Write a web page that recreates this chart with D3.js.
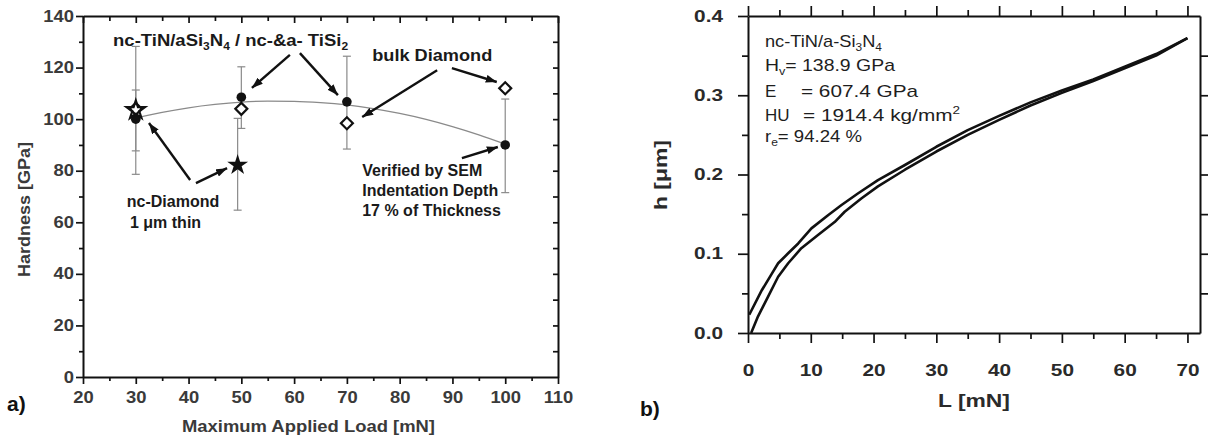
<!DOCTYPE html>
<html><head><meta charset="utf-8">
<script src="https://cdn.jsdelivr.net/npm/d3@7"></script>
<style>
body{margin:0;background:#fff}
text{font-family:"Liberation Sans",Arial,Helvetica,sans-serif}
</style>
</head><body>
<svg id="c" width="1212" height="439"></svg>
<script>
// ---------------- DATA: panel a ----------------
const xTicksA = [20,30,40,50,60,70,80,90,100,110];
const yTicksA = [0,20,40,60,80,100,120,140];
const circleLoad = [30,50,70,100];
const circleHard = [100,108.5,106.7,90];
const diamondLoad = [30,50,70,100];
const diamondHard = [104,104,98.4,112];
const openStarLoad = [30];
const openStarHard = [103.5];
const filledStarLoad = [49.3];
const filledStarHard = [82.2];
const errLoad = [30,30,50,49.3,70,100];
const errLow  = [78.6,87.7,96.4,64.7,88.4,71.5];
const errHigh = [128.2,111.3,120.3,100.3,124.4,107.8];
const fitLoad = [30,35,40,45,50,55,60,65,70,75,80,85,90,95,100];
const fitHard = [100.4,102.6,104.4,105.7,106.6,107.0,106.9,106.4,105.5,104.1,102.2,99.9,97.1,93.9,90.3];

// ---------------- DATA: panel b ----------------
const xTicksB = [0,10,20,30,40,50,60,70];
const yTicksB = [0.0,0.1,0.2,0.3,0.4];
const loadL = [0.5,1.6,3.2,4.8,6.4,8.5,11.2,13.8,15.4,18.1,20.7,25,30,35,40,45,50,55,60,65,70];
const loadH = [0,0.021,0.046,0.071,0.088,0.107,0.124,0.140,0.153,0.170,0.185,0.206,0.229,0.250,0.269,0.287,0.303,0.318,0.334,0.350,0.372];
const unloadL = [0.2,2.2,3.8,4.8,6.4,8.0,10.1,12.8,14.9,17.5,20.7,25,30,35,40,45,50,55,60,65,70];
const unloadH = [0.023,0.054,0.075,0.088,0.1006,0.113,0.132,0.149,0.1615,0.176,0.193,0.212,0.235,0.256,0.274,0.291,0.306,0.320,0.336,0.352,0.372];

// ---------------- DRAWING ----------------
const svg = d3.select("#c");
const FONT = '"Liberation Sans",Arial,Helvetica,sans-serif';

svg.append("defs").append("marker")
  .attr("id","ah").attr("viewBox","0 0 11 8").attr("refX",11).attr("refY",4)
  .attr("markerUnits","userSpaceOnUse").attr("markerWidth",11).attr("markerHeight",8)
  .attr("orient","auto")
  .append("path").attr("d","M0,0L11,4L0,8Z").attr("fill","#111");

function styleAxis(g, color, size, sx){
  g.attr("font-family",null).attr("font-size",null);
  g.selectAll(".domain").attr("stroke","#111").attr("stroke-width",2);
  g.selectAll(".tick line").attr("stroke","#111").attr("stroke-width",1.7);
  g.selectAll(".tick text").attr("fill",color).attr("font-size",size)
    .attr("font-weight","bold").attr("font-family",FONT)
    .each(function(){
      const t=d3.select(this); const x=+t.attr("x")||0;
      t.attr("x", x/sx).attr("transform",`scale(${sx},1)`);
    });
}
function minor(g){ g.select(".domain").remove(); g.selectAll(".tick line").attr("stroke","#111").attr("stroke-width",1.7); }
function range5(a,b,s){ const r=[]; for(let v=a; v<=b+1e-9; v+=s) r.push(+v.toFixed(4)); return r; }

// ===== Panel a =====
const xA = d3.scaleLinear().domain([20,110]).range([83,558]);
const yA = d3.scaleLinear().domain([0,140]).range([377,16]);
const gA = svg.append("g");
const colA = "#3a3a3a";

gA.append("g").attr("transform","translate(0,377)")
  .call(d3.axisBottom(xA).tickValues(xTicksA).tickSize(7).tickSizeOuter(0).tickPadding(8))
  .call(g=>styleAxis(g,colA,16,1.15));
gA.append("g").attr("transform","translate(0,377)")
  .call(d3.axisBottom(xA).tickValues(range5(25,105,10)).tickSize(4).tickFormat(""))
  .call(minor);
gA.append("g").attr("transform","translate(83,0)")
  .call(d3.axisLeft(yA).tickValues(yTicksA).tickSize(7).tickSizeOuter(0).tickPadding(2))
  .call(g=>styleAxis(g,colA,16,1.15));
gA.append("g").attr("transform","translate(83,0)")
  .call(d3.axisLeft(yA).tickValues(range5(10,130,20)).tickSize(4).tickFormat(""))
  .call(minor);
gA.append("g").attr("transform","translate(0,16)")
  .call(d3.axisTop(xA).tickValues(xTicksA).tickSize(-7).tickSizeOuter(0).tickFormat(""))
  .call(g=>styleAxis(g,colA,16,1));
gA.append("g").attr("transform","translate(0,16)")
  .call(d3.axisTop(xA).tickValues(range5(25,105,10)).tickSize(-5).tickFormat(""))
  .call(minor);
gA.append("g").attr("transform","translate(558,0)")
  .call(d3.axisRight(yA).tickValues(range5(10,130,10)).tickSize(-5).tickSizeOuter(0).tickFormat(""))
  .call(g=>styleAxis(g,colA,16,1));

const errG = gA.append("g").attr("stroke","#8a8a8a").attr("stroke-width",1.2).attr("fill","none");
errLoad.forEach((x,i)=>{
  const px=xA(x);
  errG.append("line").attr("x1",px).attr("x2",px).attr("y1",yA(errLow[i])).attr("y2",yA(errHigh[i]));
  errG.append("line").attr("x1",px-4).attr("x2",px+4).attr("y1",yA(errLow[i])).attr("y2",yA(errLow[i]));
  errG.append("line").attr("x1",px-4).attr("x2",px+4).attr("y1",yA(errHigh[i])).attr("y2",yA(errHigh[i]));
});
gA.append("path").datum(fitLoad.map((x,i)=>[x,fitHard[i]]))
  .attr("d", d3.line().x(d=>xA(d[0])).y(d=>yA(d[1])).curve(d3.curveMonotoneX))
  .attr("fill","none").attr("stroke","#8a8a8a").attr("stroke-width",1.3);

circleLoad.forEach((x,i)=>{
  gA.append("circle").attr("cx",xA(x)).attr("cy",yA(circleHard[i])).attr("r",4.8).attr("fill","#111");
});
const sq = d3.symbol().type(d3.symbolSquare).size(72);
diamondLoad.forEach((x,i)=>{
  gA.append("path").attr("d",sq()).attr("transform",`translate(${xA(x)},${yA(diamondHard[i])}) rotate(45)`)
    .attr("fill","#fff").attr("stroke","#111").attr("stroke-width",2.2);
});
openStarLoad.forEach((x,i)=>{
  gA.append("path").attr("d",d3.symbol().type(d3.symbolStar).size(105)())
    .attr("transform",`translate(${xA(x)},${yA(openStarHard[i])})`)
    .attr("fill","none").attr("stroke","#111").attr("stroke-width",2.2);
});
filledStarLoad.forEach((x,i)=>{
  gA.append("path").attr("d",d3.symbol().type(d3.symbolStar).size(135)())
    .attr("transform",`translate(${xA(x)},${yA(filledStarHard[i])})`)
    .attr("fill","#111");
});

const arrowsA = [
  [59.2,124.9,52.0,112.1],[61.1,125.6,68.3,109.3],
  [87.1,119.0,72.9,100.8],[89.9,119.8,98.4,114.4],
  [91.8,84.9,98.6,89.2],
  [40.3,76.4,32.5,98.5],[41.4,75.2,47.3,81.0]
];
arrowsA.forEach(a=>{
  gA.append("line").attr("x1",xA(a[0])).attr("y1",yA(a[1])).attr("x2",xA(a[2])).attr("y2",yA(a[3]))
    .attr("stroke","#111").attr("stroke-width",2.4).attr("marker-end","url(#ah)");
});

function ann(g, x, y, parts, opts={}){
  const t = g.append("text").attr("x",x).attr("y",y)
    .attr("font-size",opts.size||16).attr("font-weight",opts.weight||"bold")
    .attr("fill",opts.fill||"#1a1a1a");
  if(opts.len) t.attr("textLength",opts.len).attr("lengthAdjust","spacingAndGlyphs");
  let shift=0;
  parts.forEach(p=>{
    const s = typeof p==="string" ? {t:p,d:0} : p;
    const ts = t.append("tspan").text(s.t);
    const target = s.d||0;
    if(target!==shift){ ts.attr("dy", target-shift); shift=target; }
    if(s.d) ts.attr("font-size", (opts.size||16)*0.65);
  });
  return t;
}
ann(gA, xA(25.7), yA(128.3), ["nc-TiN/aSi",{t:"3",d:4},"N",{t:"4",d:4}," / nc-&a- TiSi",{t:"2",d:4}], {len:235});
ann(gA, xA(74.8), yA(122.5), ["bulk Diamond"], {len:120});
ann(gA, xA(72.9), yA(77.9), ["Verified by SEM"]);
ann(gA, xA(72.9), yA(70.2), ["Indentation Depth"]);
ann(gA, xA(72.9), yA(62.4), ["17 % of Thickness"]);
ann(gA, xA(28.3), yA(65.9), ["nc-Diamond"]);
ann(gA, xA(28.9), yA(57.8), ["1 \u03bcm thin"]);

gA.append("text").attr("x",182).attr("y",432).attr("font-size",17).attr("font-weight","bold")
  .attr("fill",colA).attr("textLength",253).attr("lengthAdjust","spacingAndGlyphs")
  .text("Maximum Applied Load [mN]");
gA.append("text").attr("transform","translate(30,277) rotate(-90)").attr("font-size",17).attr("font-weight","bold")
  .attr("fill",colA).attr("textLength",135).attr("lengthAdjust","spacingAndGlyphs")
  .text("Hardness [GPa]");
gA.append("text").attr("x",7).attr("y",411).attr("font-size",21).attr("font-weight","bold").attr("fill","#111").text("a)");

// ===== Panel b =====
const xB = d3.scaleLinear().domain([0,72]).range([748,1200]);
const yB = d3.scaleLinear().domain([0,0.4]).range([333,16]);
const gB = svg.append("g");
const colB = "#2a2a2a";

gB.append("g").attr("transform","translate(0,333)")
  .call(d3.axisBottom(xB).tickValues(xTicksB).tickSize(10).tickSizeOuter(0).tickPadding(22))
  .call(g=>styleAxis(g,colB,16,1.3));
gB.append("g").attr("transform","translate(0,333)")
  .call(d3.axisBottom(xB).tickValues(range5(5,65,10)).tickSize(6).tickFormat(""))
  .call(minor);
gB.append("g").attr("transform","translate(748,0)")
  .call(d3.axisLeft(yB).tickValues(yTicksB).tickSize(10).tickSizeOuter(0).tickPadding(15).tickFormat(d3.format(".1f")))
  .call(g=>styleAxis(g,colB,16,1.3));
gB.append("g").attr("transform","translate(748,0)")
  .call(d3.axisLeft(yB).tickValues(range5(0.05,0.35,0.1)).tickSize(6).tickFormat(""))
  .call(minor);
gB.append("g").attr("transform","translate(0,16)")
  .call(d3.axisTop(xB).tickValues(xTicksB).tickSize(10).tickSizeOuter(0).tickFormat(""))
  .call(g=>styleAxis(g,colB,16,1));
gB.append("g").attr("transform","translate(0,16)")
  .call(d3.axisTop(xB).tickValues(range5(5,65,10)).tickSize(6).tickFormat(""))
  .call(minor);
gB.append("g").attr("transform","translate(1200,0)")
  .call(d3.axisRight(yB).tickValues(range5(0.05,0.35,0.05)).tickSize(8).tickSizeOuter(0).tickFormat(""))
  .call(g=>styleAxis(g,colB,16,1));

const lineB = d3.line().x(d=>xB(d[0])).y(d=>yB(d[1]));
[[loadL,loadH],[unloadL,unloadH]].forEach(([L,H])=>{
  gB.append("path").datum(L.map((x,i)=>[x,H[i]])).attr("d",lineB)
    .attr("fill","none").attr("stroke","#111").attr("stroke-width",2.6).attr("stroke-linejoin","round");
});

const tb = {size:17, weight:"normal", fill:"#1e1e1e"};
ann(gB, xB(2.7), 46.5, ["nc-TiN/a-Si",{t:"3",d:4},"N",{t:"4",d:4}], Object.assign({len:117},tb));
ann(gB, xB(2.7), 70.5, ["H",{t:"v",d:4},"= 138.9 GPa"], Object.assign({len:130},tb));
ann(gB, xB(2.7), 97, ["E"], tb);
ann(gB, 801, 97, ["= 607.4 GPa"], Object.assign({len:117},tb));
ann(gB, xB(2.7), 120.5, ["HU"], tb);
ann(gB, 803, 120.5, ["= 1914.4 kg/mm",{t:"2",d:-7}], Object.assign({len:157},tb));
ann(gB, xB(2.7), 142, ["r",{t:"e",d:4},"= 94.24 %"], Object.assign({len:97},tb));

gB.append("text").attr("x",938).attr("y",407).attr("font-size",18).attr("font-weight","bold")
  .attr("fill",colB).attr("textLength",72).attr("lengthAdjust","spacingAndGlyphs").text("L [mN]");
gB.append("text").attr("transform","translate(667,210) rotate(-90)").attr("font-size",18).attr("font-weight","bold")
  .attr("fill",colB).attr("textLength",70).attr("lengthAdjust","spacingAndGlyphs").text("h [\u03bcm]");
gB.append("text").attr("x",640).attr("y",416).attr("font-size",21).attr("font-weight","bold").attr("fill","#111").text("b)");
</script>
</body></html>
